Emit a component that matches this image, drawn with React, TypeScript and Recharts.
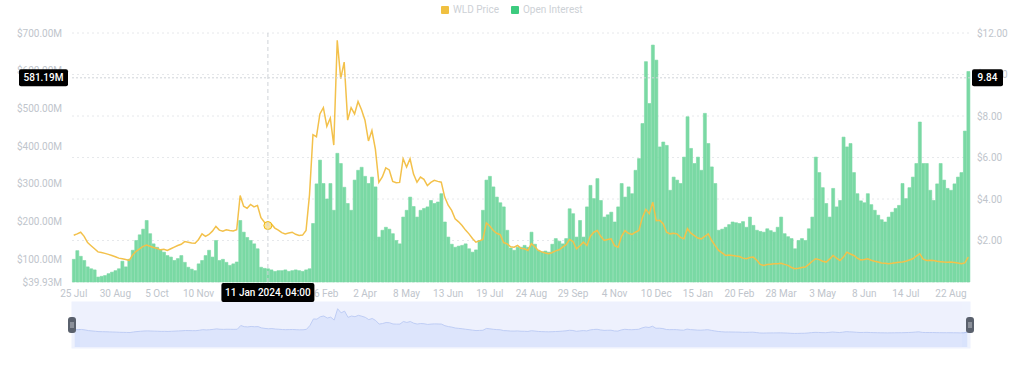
import {
  ComposedChart,
  Bar,
  Line,
  XAxis,
  YAxis,
  CartesianGrid,
  ReferenceLine,
  ReferenceDot,
  Brush,
  AreaChart,
  Area,
} from "recharts";

const MONTHS = ["Jan", "Feb", "Mar", "Apr", "May", "Jun", "Jul", "Aug", "Sep", "Oct", "Nov", "Dec"];

// WLD price ($), one point every 3 days from 25 Jul 2023
const priceValues = [
  2.25, 2.32, 2.40, 2.20, 1.90, 1.75, 1.60, 1.45, 1.42, 1.38, 1.33, 1.28,
  1.22, 1.15, 1.12, 1.08, 1.04, 1.30, 1.48, 1.60, 1.72, 1.78, 1.72, 1.66,
  1.62, 1.55, 1.58, 1.52, 1.60, 1.68, 1.76, 1.82, 1.95, 1.92, 1.88, 1.87,
  2.05, 2.32, 2.20, 2.29, 2.45, 2.68, 2.50, 2.45, 2.52, 2.48, 2.46, 2.52,
  4.17, 3.65, 3.55, 3.74, 3.62, 3.69, 3.10, 2.88, 2.72, 2.80, 2.60, 2.50,
  2.38, 2.32, 2.36, 2.40, 2.30, 2.24, 2.26, 2.48, 4.20, 7.10, 7.00, 8.10,
  8.40, 7.50, 7.90, 6.60, 11.65, 9.80, 10.60, 7.80, 8.40, 8.10, 8.70, 8.30,
  7.80, 6.80, 7.30, 6.40, 4.80, 5.06, 5.50, 5.40, 4.85, 4.78, 4.80, 5.94,
  5.54, 5.94, 5.20, 4.81, 5.06, 4.95, 4.65, 4.80, 4.90, 4.85, 4.81, 4.09,
  3.70, 3.45, 3.05, 2.90, 2.72, 2.50, 2.32, 2.10, 1.92, 1.98, 2.05, 2.85,
  2.70, 2.48, 2.35, 2.28, 1.90, 1.84, 1.70, 1.68, 1.76, 1.62, 1.60, 1.52,
  1.85, 1.70, 1.52, 1.45, 1.40, 1.36, 1.42, 1.50, 1.55, 1.68, 1.80, 2.05,
  1.95, 1.60, 1.75, 1.92, 1.76, 2.20, 2.40, 2.48, 2.20, 2.00, 2.05, 2.08,
  1.75, 1.68, 2.20, 2.48, 2.35, 2.29, 2.40, 2.48, 3.10, 3.50, 3.29, 3.85,
  2.95, 2.97, 2.81, 2.40, 2.32, 2.35, 2.32, 2.15, 2.08, 2.57, 2.35, 2.24,
  2.12, 2.08, 2.20, 2.32, 2.00, 1.75, 1.52, 1.40, 1.28, 1.30, 1.28, 1.25,
  1.23, 1.15, 1.12, 1.18, 1.20, 1.05, 0.85, 0.80, 0.84, 0.86, 0.88, 0.88,
  0.90, 0.85, 0.80, 0.70, 0.64, 0.66, 0.70, 0.72, 0.85, 1.00, 1.12, 1.08,
  1.00, 0.96, 1.10, 1.28, 1.15, 1.04, 1.20, 1.44, 1.35, 1.28, 1.15, 1.06,
  1.08, 1.12, 1.05, 1.00, 0.96, 0.92, 0.90, 0.88, 0.90, 0.93, 0.95, 0.96,
  1.00, 1.06, 1.12, 1.25, 1.36, 1.10, 1.04, 1.05, 1.04, 1.00, 0.98, 0.96,
  0.95, 0.96, 0.94, 0.92, 0.88, 0.92, 1.20,
];

// open interest ($M)
const oiValues = [
  100, 123, 108, 97, 80, 75, 72, 53, 55, 57, 62, 66,
  70, 75, 95, 80, 100, 124, 150, 165, 180, 203, 168, 141,
  132, 125, 119, 110, 106, 97, 102, 110, 92, 79, 74, 70,
  88, 97, 110, 124, 106, 150, 97, 100, 92, 84, 88, 93,
  203, 172, 158, 150, 141, 128, 79, 76, 75, 72, 68, 70,
  70, 72, 68, 70, 72, 70, 68, 72, 75, 195, 300, 363,
  301, 260, 301, 230, 381, 354, 291, 248, 230, 310, 336, 344,
  320, 301, 318, 292, 159, 177, 185, 180, 168, 150, 141, 212,
  230, 265, 240, 212, 230, 235, 239, 256, 248, 252, 274, 199,
  159, 140, 132, 135, 137, 141, 128, 119, 125, 150, 230, 310,
  320, 292, 265, 250, 239, 177, 130, 124, 132, 132, 137, 132,
  172, 140, 124, 120, 122, 119, 140, 155, 148, 141, 155, 234,
  221, 159, 203, 159, 239, 296, 261, 314, 256, 212, 218, 225,
  199, 239, 301, 265, 292, 274, 336, 367, 460, 624, 513, 668,
  628, 398, 411, 402, 283, 318, 310, 301, 371, 478, 394, 354,
  371, 336, 487, 407, 345, 301, 177, 180, 185, 192, 199, 197,
  195, 200, 185, 212, 190, 177, 174, 172, 181, 176, 172, 185,
  212, 168, 160, 155, 128, 150, 155, 150, 181, 212, 371, 330,
  290, 248, 212, 288, 239, 256, 424, 398, 407, 330, 274, 255,
  250, 274, 245, 230, 217, 205, 199, 212, 225, 235, 243, 301,
  261, 290, 318, 354, 464, 354, 354, 283, 256, 300, 354, 310,
  288, 283, 300, 318, 330, 440, 598,
];

const tickDates = [
  "2023-07-25", "2023-08-30", "2023-10-05", "2023-11-10", "2023-12-16", "2024-01-21",
  "2024-02-26", "2024-04-02", "2024-05-08", "2024-06-13", "2024-07-19", "2024-08-24",
  "2024-09-29", "2024-11-04", "2024-12-10", "2025-01-15", "2025-02-20", "2025-03-28",
  "2025-05-03", "2025-06-08", "2025-07-14", "2025-08-22",
];

const leftTicks = [39.93, 100, 200, 300, 400, 500, 600, 700];
const rightTicks = [2, 4, 6, 8, 10, 12];

// hovered crosshair state shown in the screenshot
const hoverIndex = 56;
const hoverLabel = "11 Jan 2024, 04:00";
const hoverOi = 581.19;
const hoverPrice = 9.84;

const START = Date.UTC(2023, 6, 25);
const DAY = 86400000;

const data = oiValues.map((oi, i) => ({
  date: new Date(START + i * 3 * DAY).toISOString().slice(0, 10),
  oi,
  price: priceValues[i],
}));

const fmtDate = (iso: string) => {
  const d = new Date(iso + "T00:00:00Z");
  return `${d.getUTCDate()} ${MONTHS[d.getUTCMonth()]}`;
};

const FONT = "Roboto, sans-serif";
const tickStyle = { fill: "#c0c5cc", fontSize: 10, fontFamily: FONT };

const Badge = ({ x, y, w, h, text }: any) => (
  <g>
    <rect x={x} y={y} width={w} height={h} rx={2} fill="#000" />
    <text
      x={x + w / 2}
      y={y + h / 2}
      fill="#fff"
      fontSize={10}
      fontFamily={FONT}
      fontWeight={500}
      textAnchor="middle"
      dominantBaseline="central"
    >
      {text}
    </text>
  </g>
);

const HorizontalBadges = ({ viewBox }: any) => {
  if (!viewBox) return null;
  const { x, y, width } = viewBox;
  return (
    <g>
      <Badge x={x - 53} y={y - 8.5} w={49} h={17} text={`${hoverOi}M`} />
      <Badge x={x + width + 2} y={y - 8.5} w={31} h={17} text={hoverPrice.toFixed(2)} />
    </g>
  );
};

const VerticalBadge = ({ viewBox }: any) => {
  if (!viewBox) return null;
  const { x, y, height } = viewBox;
  return <Badge x={x - 46.5} y={y + height + 1} w={93} h={19} text={hoverLabel} />;
};

const Handle = (props: any) => {
  const { x, y, width, height } = props;
  const cx = x < 500 ? x : x + width;
  const cy = y + height / 2;
  return (
    <g>
      <rect x={cx - 4} y={cy - 8} width={8} height={16} rx={3} fill="#5a616d" />
      <line x1={cx - 1} x2={cx - 1} y1={cy - 3} y2={cy + 3} stroke="#d5d9df" strokeWidth={0.8} />
      <line x1={cx + 1} x2={cx + 1} y1={cy - 3} y2={cy + 3} stroke="#d5d9df" strokeWidth={0.8} />
    </g>
  );
};

const LegendItem = ({ color, label }: { color: string; label: string }) => (
  <div style={{ display: "flex", alignItems: "center", marginRight: 12 }}>
    <span style={{ width: 8, height: 8, background: color, borderRadius: 1, marginRight: 4 }} />
    <span style={{ fontSize: 10, color: "#cdd1d6", fontFamily: FONT }}>{label}</span>
  </div>
);

export default function App() {
  return (
    <div style={{ position: "absolute", left: 0, top: 0, width: 1024, height: 373, background: "#fff" }}>
      <div style={{ position: "absolute", top: 4, left: 441, display: "flex", zIndex: 2 }}>
        <LegendItem color="#f0c040" label="WLD Price" />
        <LegendItem color="#3ccb7f" label="Open Interest" />
      </div>
      <ComposedChart
        width={1024}
        height={373}
        data={data}
        margin={{ top: 33, right: 0, bottom: 25, left: 0 }}
        barCategoryGap={0}
        style={{ fontFamily: FONT }}
      >
        <CartesianGrid yAxisId="right" vertical={false} stroke="#e6e8eb" strokeDasharray="2 3" />
        <XAxis
          dataKey="date"
          ticks={tickDates}
          interval={0}
          tickFormatter={fmtDate}
          tick={tickStyle}
          axisLine={false}
          tickLine={false}
          height={20}
        />
        <YAxis
          yAxisId="left"
          orientation="left"
          width={72}
          domain={[39.93, 700]}
          ticks={leftTicks}
          interval={0}
          tickFormatter={(v: number) => `$${v.toFixed(2)}M`}
          tick={tickStyle}
          axisLine={false}
          tickLine={false}
          tickMargin={4}
        />
        <YAxis
          yAxisId="right"
          orientation="right"
          width={54}
          domain={[0, 12]}
          ticks={rightTicks}
          interval={0}
          tickFormatter={(v: number) => `$${v.toFixed(2)}`}
          tick={tickStyle}
          axisLine={false}
          tickLine={false}
          tickMargin={1}
        />
        <Bar
          yAxisId="left"
          dataKey="oi"
          fill="#7ad9a4"
          stroke="#7ad9a4"
          strokeWidth={0.6}
          isAnimationActive={false}
        />
        <Line
          yAxisId="right"
          dataKey="price"
          stroke="#f3c14b"
          strokeWidth={1.5}
          dot={false}
          isAnimationActive={false}
        />
        <ReferenceLine
          yAxisId="left"
          x={data[hoverIndex].date}
          stroke="#cfd3d8"
          strokeDasharray="4 3"
          label={<VerticalBadge />}
          zIndex={2500}
        />
        <ReferenceLine
          yAxisId="left"
          y={hoverOi}
          stroke="#cfd3d8"
          strokeDasharray="2 2"
          label={<HorizontalBadges />}
          zIndex={2500}
        />
        <ReferenceDot
          yAxisId="right"
          x={data[hoverIndex].date}
          y={priceValues[hoverIndex]}
          r={4}
          fill="#f9e3a3"
          stroke="#f0b90b"
          strokeWidth={1}
        />
        <Brush
          dataKey="date"
          x={72}
          y={302}
          width={898}
          height={46}
          travellerWidth={8}
          fill="#eef2fd"
          stroke="#eef2fd"
          traveller={<Handle />}
        >
          <AreaChart>
            <YAxis hide width={0} domain={[-5.4, 14.2]} />
            <Area
              dataKey="price"
              stroke="#b3c5f3"
              strokeWidth={1}
              fill="#d9e3fc"
              fillOpacity={1}
              baseValue="dataMin"
              dot={false}
              isAnimationActive={false}
            />
          </AreaChart>
        </Brush>
      </ComposedChart>
    </div>
  );
}
